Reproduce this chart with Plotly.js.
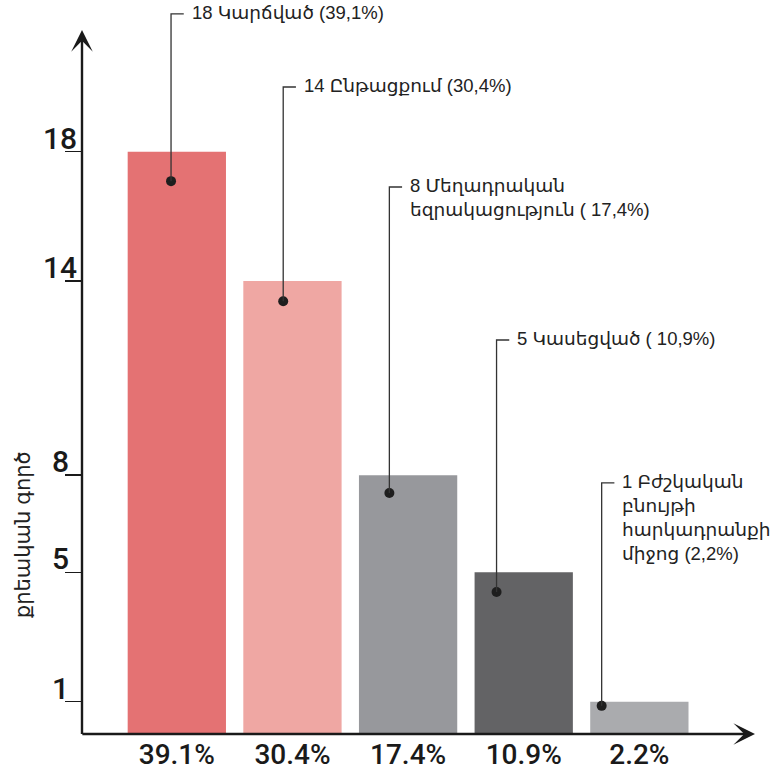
<!DOCTYPE html>
<html>
<head>
<meta charset="utf-8">
<script src="https://cdn.plot.ly/plotly-3.0.1.min.js"></script>
<style>html,body{margin:0;padding:0;background:#fff;}#chart{width:770px;height:773px;}</style>
</head>
<body>
<div id="chart"></div>
<script>
// ---- data ----
const counts = [18, 14, 8, 5, 1];
const percentLabels = ["39.1%", "30.4%", "17.4%", "10.9%", "2.2%"];
const categoryNotes = [
  "18 Կարճված (39,1%)",
  "14 Ընթացքում (30,4%)",
  "8 Մեղադրական<br>եզրակացություն ( 17,4%)",
  "5 Կասեցված ( 10,9%)",
  "1 Բժշկական<br>բնույթի<br>հարկադրանքի<br>միջոց (2,2%)"
];
const yTickVals = [1, 5, 8, 14, 18];
const yTickText = ["1", "5", "8", "14", "18"];
const yTitle = "քրեական գործ";

// ---- styling / leader layout ----
const barColors = ["#e47273", "#efa7a3", "#97989c", "#636365", "#aaabae"];
const dotDx   = [-0.05, -0.08, -0.162, -0.235, -0.326];
const dotDrop = [0.91, 0.62, 0.55, 0.61, 0.13];
const leaderTop = [22.26, 20.0, 16.91, 12.18, 7.76];
const hookLen = 0.11;

const xs = counts.map((_, i) => i);
const fontTxt = "Liberation Sans, DejaVu Sans, sans-serif";
const fontNum = "Roboto, Liberation Sans, Arial, sans-serif";

const bars = {
  type: "bar", x: xs, y: counts, width: 0.85,
  marker: {color: barColors, line: {width: 0}},
  hoverinfo: "skip"
};
const dots = {
  type: "scatter", mode: "markers",
  x: xs.map((x, i) => x + dotDx[i]),
  y: counts.map((v, i) => v - dotDrop[i]),
  marker: {size: 10, color: "#1e1e1e"},
  hoverinfo: "skip", cliponaxis: false
};

const shapes = [];
const annotations = [];
xs.forEach((x, i) => {
  const dx = x + dotDx[i];
  const dy = counts[i] - dotDrop[i];
  shapes.push({type: "path", xref: "x", yref: "y",
    path: `M${dx},${dy} V${leaderTop[i]} H${dx + hookLen}`,
    line: {color: "#333", width: 1.3}});
  annotations.push({xref: "x", yref: "y", x: dx + hookLen, y: leaderTop[i],
    xanchor: "left", yanchor: "top", xshift: 6, yshift: 14, align: "left",
    text: categoryNotes[i], showarrow: false,
    font: {family: fontTxt, size: 18.5, color: "#222"}});
});
yTickVals.forEach((v, i) => {
  annotations.push({xref: "paper", yref: "y", x: 0, y: v, xanchor: "center", yanchor: "bottom",
    xshift: -22, yshift: -6, text: yTickText[i], showarrow: false,
    font: {family: fontNum, size: 30, color: "#1a1a1a", weight: 500}});
});
// axis arrows
annotations.push({xref: "x", yref: "y", axref: "x", ayref: "y", x: -0.82, y: 21.76, ax: -0.82, ay: -0.05,
  text: "", showarrow: true, arrowhead: 3, arrowsize: 1.5, arrowwidth: 2.4, arrowcolor: "#1a1a1a"});
annotations.push({xref: "x", yref: "y", axref: "x", ayref: "y", x: 5.0, y: 0, ax: -0.83, ay: 0,
  text: "", showarrow: true, arrowhead: 3, arrowsize: 1.5, arrowwidth: 2.4, arrowcolor: "#1a1a1a"});
annotations.push({xref: "paper", yref: "paper", x: -0.089, y: 0.271, xanchor: "center", yanchor: "middle",
  text: yTitle, textangle: -90, showarrow: false,
  font: {family: fontTxt, size: 21, color: "#222"}});

const layout = {
  width: 770, height: 773,
  margin: {l: 82, r: 15, t: 0, b: 39},
  paper_bgcolor: "#fff", plot_bgcolor: "#fff",
  showlegend: false,
  xaxis: {range: [-0.82, 5.0], tickvals: xs, ticktext: percentLabels, ticks: "",
    showgrid: false, zeroline: false, showline: false, fixedrange: true, ticklabelstandoff: 1,
    tickfont: {family: fontNum, size: 28, color: "#1a1a1a", weight: 500}},
  yaxis: {range: [0, 22.69], tickvals: yTickVals, ticks: "outside", ticklen: 16, tickwidth: 1.5,
    tickcolor: "#1a1a1a", showticklabels: false, showgrid: false, zeroline: false, showline: false, fixedrange: true},
  shapes: shapes,
  annotations: annotations
};
Plotly.newPlot("chart", [bars, dots], layout, {staticPlot: true, displayModeBar: false});
</script>
</body>
</html>
